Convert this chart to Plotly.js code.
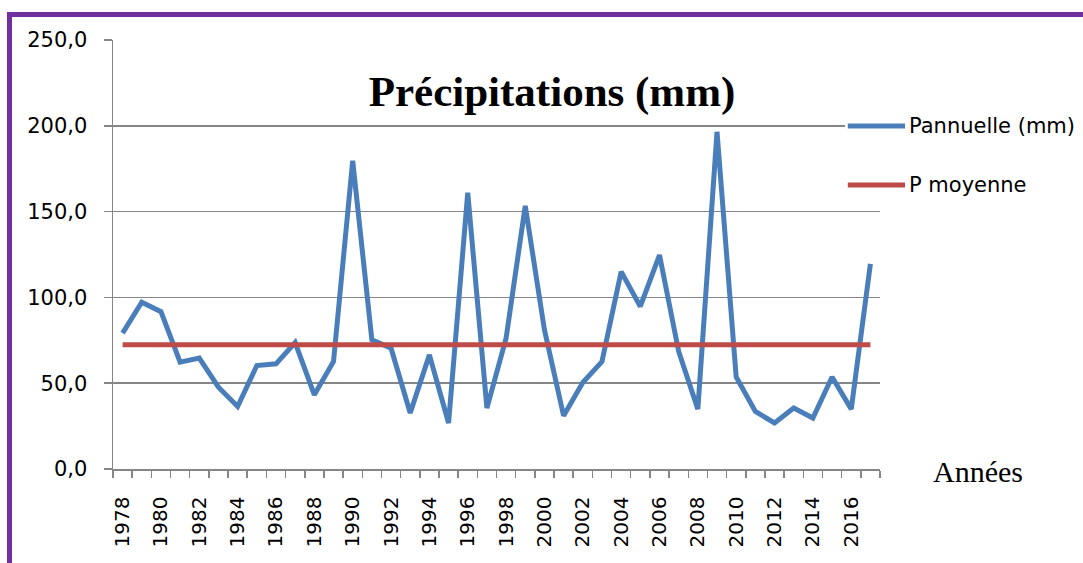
<!DOCTYPE html>
<html>
<head>
<meta charset="utf-8">
<script src="https://cdn.plot.ly/plotly-3.0.1.min.js"></script>
<style>
  html, body { margin: 0; padding: 0; background: #ffffff; overflow: hidden; }
  #wrap { position: relative; width: 1083px; height: 563px; }
  #chart { position: absolute; left: 0; top: 0; width: 1083px; height: 563px; }
  #frame { position: absolute; left: 7px; top: 12px; width: 2000px; height: 2000px;
           border: 5px solid #7030A0; pointer-events: none; }
</style>
</head>
<body>
<div id="wrap">
  <div id="chart"></div>
  <div id="frame"></div>
</div>
<script>
// ---- data ----
const years = [1978, 1979, 1980, 1981, 1982, 1983, 1984, 1985, 1986, 1987,
               1988, 1989, 1990, 1991, 1992, 1993, 1994, 1995, 1996, 1997,
               1998, 1999, 2000, 2001, 2002, 2003, 2004, 2005, 2006, 2007,
               2008, 2009, 2010, 2011, 2012, 2013, 2014, 2015, 2016, 2017];

const pAnnuelle = [79.2, 97.2, 91.7, 62.3, 64.6, 47.7, 36.4, 60.3, 61.3, 73.7,
                   43.2, 62.6, 179.6, 75.3, 70.4, 32.6, 66.5, 26.8, 161.0, 35.5,
                   76.2, 153.3, 81.1, 31.0, 50.4, 62.6, 115.0, 94.7, 124.7, 68.5,
                   34.9, 196.5, 53.6, 33.5, 26.8, 35.5, 29.7, 53.6, 34.9, 119.5];

const pMoyenne = [72.4, 72.4, 72.4, 72.4, 72.4, 72.4, 72.4, 72.4, 72.4, 72.4,
                  72.4, 72.4, 72.4, 72.4, 72.4, 72.4, 72.4, 72.4, 72.4, 72.4,
                  72.4, 72.4, 72.4, 72.4, 72.4, 72.4, 72.4, 72.4, 72.4, 72.4,
                  72.4, 72.4, 72.4, 72.4, 72.4, 72.4, 72.4, 72.4, 72.4, 72.4];

const xTickVals = [1978, 1980, 1982, 1984, 1986, 1988, 1990, 1992, 1994, 1996,
                   1998, 2000, 2002, 2004, 2006, 2008, 2010, 2012, 2014, 2016];
const xTickText = ['1978', '1980', '1982', '1984', '1986', '1988', '1990', '1992', '1994', '1996',
                   '1998', '2000', '2002', '2004', '2006', '2008', '2010', '2012', '2014', '2016'];

const seriesNames = ['Pannuelle (mm)', 'P moyenne'];
const titleText = 'Précipitations (mm)';
const xTitleText = 'Années';

// ---- styles ----
const BLUE = '#4A7EBB';
const RED = '#BE4B48';
const GRID = '#868686';
const SANS = 'DejaVu Sans, sans-serif';
const SERIF = 'Liberation Serif, Times New Roman, serif';

const traces = [
  { x: years, y: pAnnuelle, type: 'scatter', mode: 'lines', name: seriesNames[0],
    line: { color: BLUE, width: 5 }, showlegend: false },
  { x: years, y: pMoyenne, type: 'scatter', mode: 'lines', name: seriesNames[1],
    line: { color: RED, width: 5 }, showlegend: false }
];

// custom legend geometry (paper coords)
const legX0 = 0.958, legX1 = 1.0326, legY = [0.7995, 0.662];

const layout = {
  width: 1083, height: 563, autosize: false,
  margin: { l: 113, r: 203, t: 40, b: 94, pad: 0 },
  paper_bgcolor: '#ffffff', plot_bgcolor: '#ffffff',
  separators: ', ',
  showlegend: false,
  title: {
    text: titleText,
    font: { family: SERIF, size: 43, color: '#000000', weight: 700 },
    xref: 'paper', yref: 'paper', x: 0.5724, y: 0.881,
    xanchor: 'center', yanchor: 'middle'
  },
  xaxis: {
    type: 'linear', range: [1977.5, 2017.5], fixedrange: true,
    tickmode: 'array', tickvals: xTickVals, ticktext: xTickText,
    tickangle: -90,
    ticks: 'outside', ticklen: 7, tickcolor: 'rgba(0,0,0,0)', tickwidth: 1.5,
    minor: { tick0: 1977.5, dtick: 1, ticks: 'outside', ticklen: 7,
             tickcolor: GRID, tickwidth: 1.5, showgrid: false },
    showgrid: false, zeroline: false,
    showline: true, linecolor: GRID, linewidth: 1.5,
    tickfont: { family: SANS, size: 20, color: '#000000' },
    ticklabelstandoff: 11
  },
  yaxis: {
    range: [0, 250], dtick: 50, tick0: 0, tickformat: '.1f', fixedrange: true,
    ticks: 'outside', ticklen: 8, tickcolor: GRID, tickwidth: 1.5,
    showgrid: true, gridcolor: GRID, gridwidth: 1.5,
    zeroline: false,
    showline: true, linecolor: GRID, linewidth: 1.5,
    tickfont: { family: SANS, size: 21, color: '#000000' },
    ticklabelstandoff: 12
  },
  shapes: [
    { type: 'rect', xref: 'paper', yref: 'paper', x0: 0.9544, x1: 1.3, y0: 0.627, y1: 0.837,
      fillcolor: '#ffffff', line: { width: 0 }, layer: 'above' },
    { type: 'line', xref: 'paper', yref: 'paper', x0: legX0, x1: legX1, y0: legY[0], y1: legY[0],
      line: { color: BLUE, width: 5 }, layer: 'above' },
    { type: 'line', xref: 'paper', yref: 'paper', x0: legX0, x1: legX1, y0: legY[1], y1: legY[1],
      line: { color: RED, width: 5 }, layer: 'above' }
  ],
  annotations: [
    { text: seriesNames[0], xref: 'paper', yref: 'paper', x: 1.0352, y: legY[0],
      xanchor: 'left', yanchor: 'middle', showarrow: false,
      font: { family: SANS, size: 21, color: '#000000' } },
    { text: seriesNames[1], xref: 'paper', yref: 'paper', x: 1.0352, y: legY[1],
      xanchor: 'left', yanchor: 'middle', showarrow: false,
      font: { family: SANS, size: 21, color: '#000000' } },
    { text: xTitleText, xref: 'paper', yref: 'paper', x: 1.128, y: -0.005,
      xanchor: 'center', yanchor: 'middle', showarrow: false,
      font: { family: SERIF, size: 30, color: '#000000' } }
  ]
};

Plotly.newPlot('chart', traces, layout, { staticPlot: true, displayModeBar: false });
</script>
</body>
</html>
